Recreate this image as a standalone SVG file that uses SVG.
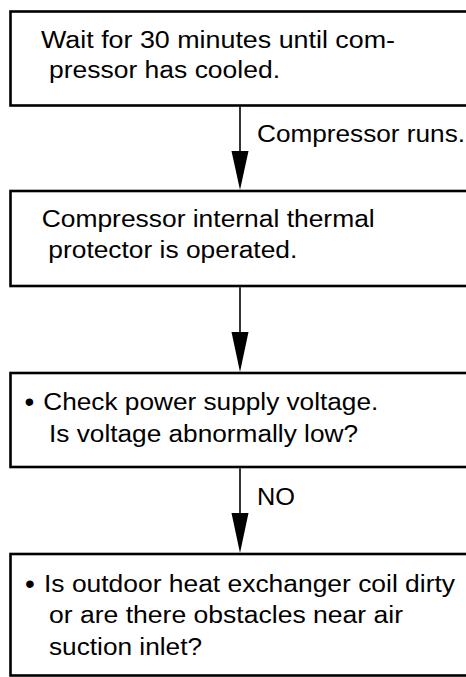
<svg xmlns="http://www.w3.org/2000/svg" width="466" height="677" viewBox="0 0 466 677">
<style>
.box{fill:#fff;stroke:#000;stroke-width:2.6}
.t{font-family:"Liberation Sans",Arial,sans-serif;font-size:23.5px;fill:#000}
.b{font-family:"Liberation Sans",Arial,sans-serif;font-size:28px;fill:#000}
.ln{stroke:#000;stroke-width:1.6;fill:none}
.ah{fill:#000;stroke:none}
</style>
<rect width="466" height="677" fill="#fff"/>
<g id="node1">
<rect class="box" x="10.5" y="11.5" width="480" height="94"/>
<text class="t" x="41" y="47.5" textLength="354" lengthAdjust="spacingAndGlyphs">Wait for 30 minutes until com-</text>
<text class="t" x="49" y="78" textLength="231" lengthAdjust="spacingAndGlyphs">pressor has cooled.</text>
</g>
<g id="node2">
<rect class="box" x="10.5" y="191" width="480" height="95"/>
<text class="t" x="41.7" y="227" textLength="333" lengthAdjust="spacingAndGlyphs">Compressor internal thermal</text>
<text class="t" x="48.3" y="258" textLength="249" lengthAdjust="spacingAndGlyphs">protector is operated.</text>
</g>
<g id="node3">
<rect class="box" x="10.5" y="373" width="480" height="94"/>
<text class="b" x="24.5" y="410.5">•</text>
<text class="t" x="43.3" y="409.5" textLength="335" lengthAdjust="spacingAndGlyphs">Check power supply voltage.</text>
<text class="t" x="49" y="441.5" textLength="309" lengthAdjust="spacingAndGlyphs">Is voltage abnormally low?</text>
</g>
<g id="node4">
<rect class="box" x="10.5" y="554" width="480" height="121.5"/>
<text class="b" x="25" y="592.5">•</text>
<text class="t" x="44" y="591.5" textLength="411" lengthAdjust="spacingAndGlyphs">Is outdoor heat exchanger coil dirty</text>
<text class="t" x="49" y="623" textLength="354" lengthAdjust="spacingAndGlyphs">or are there obstacles near air</text>
<text class="t" x="49" y="654.5" textLength="153" lengthAdjust="spacingAndGlyphs">suction inlet?</text>
</g>
<g id="connectors">
<line class="ln" x1="240" y1="106.8" x2="240" y2="160"/>
<polygon class="ah" points="231.5,151 248.5,151 240,190"/>
<text class="t" x="257" y="142" textLength="208" lengthAdjust="spacingAndGlyphs">Compressor runs.</text>
<line class="ln" x1="240" y1="287.3" x2="240" y2="340"/>
<polygon class="ah" points="231.5,332 248.5,332 240,372"/>
<line class="ln" x1="240" y1="468.3" x2="240" y2="520"/>
<polygon class="ah" points="231.5,513 248.5,513 240,553"/>
<text class="t" x="257" y="505" textLength="38" lengthAdjust="spacingAndGlyphs">NO</text>
</g>
</svg>
